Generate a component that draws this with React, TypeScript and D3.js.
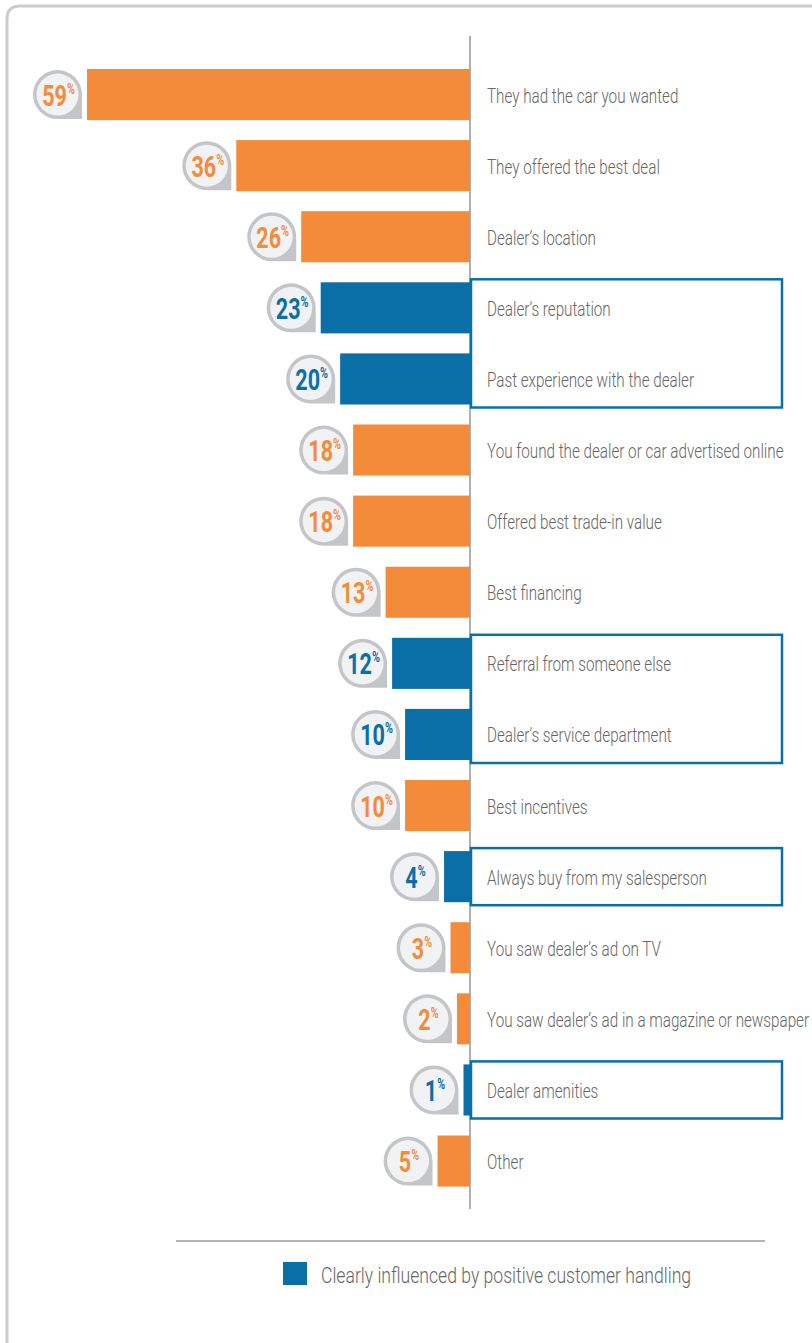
import React from "react";
import * as d3 from "d3";

const categories = [
  "They had the car you wanted",
  "They offered the best deal",
  "Dealer’s location",
  "Dealer’s reputation",
  "Past experience with the dealer",
  "You found the dealer or car advertised online",
  "Offered best trade-in value",
  "Best financing",
  "Referral from someone else",
  "Dealer’s service department",
  "Best incentives",
  "Always buy from my salesperson",
  "You saw dealer’s ad on TV",
  "You saw dealer’s ad in a magazine or newspaper",
  "Dealer amenities",
  "Other",
];
const values = [59, 36, 26, 23, 20, 18, 18, 13, 12, 10, 10, 4, 3, 2, 1, 5];
const customerHandling = [false, false, false, true, true, false, false, false, true, true, false, true, false, false, true, false];
const boxGroups = [
  [3, 4],
  [8, 9],
  [11, 11],
  [14, 14],
];
const legendLabel = "Clearly influenced by positive customer handling";

const ORANGE = "#f48b3a";
const BLUE = "#0a6fa6";
const TEXT = "#666666";
const FONT = "Roboto, 'DejaVu Sans', sans-serif";

export default function App() {
  const W = 812, H = 1343;
  const axisX = 470;
  const x = d3.scaleLinear().domain([0, 59]).range([axisX, 87]);
  const step = 71.1;
  const y = d3
    .scaleBand<string>()
    .domain(categories)
    .range([59, 59 + categories.length * step])
    .paddingInner(20 / step)
    .paddingOuter(10 / step);
  const bw = y.bandwidth();
  const R = 24.5;
  const labelScale = 0.725;
  const legendScale = 0.8;
  const numScale = 0.72;

  const badgePath = (cx: number, cy: number) =>
    `M ${cx + R} ${cy} L ${cx + R} ${cy + R} L ${cx} ${cy + R} A ${R} ${R} 0 1 1 ${cx + R} ${cy} Z`;

  return (
    <svg width={W} height={H} style={{ position: "absolute", left: 0, top: 0, background: "#fff" }}>
      <path d={`M 7 ${H + 5} L 7 19 Q 7 6 20 6 L ${W + 10} 6`} fill="none" stroke="#cccccc" strokeWidth={3} />
      <line x1={axisX} x2={axisX} y1={36} y2={1209} stroke="#b0b0b0" strokeWidth={2} />
      {categories.map((c, i) => {
        const v = values[i];
        const y0 = y(c)!;
        const cy = y0 + bw / 2;
        const color = customerHandling[i] ? BLUE : ORANGE;
        const bx = x(v);
        const cx = bx - 5 - R;
        return (
          <g key={c}>
            <rect x={bx} y={y0} width={axisX - bx} height={bw} fill={color} />
            <path d={badgePath(cx, cy)} fill="#c4c5c8" />
            <circle cx={cx} cy={cy} r={R - 3.5} fill="#f1f2f4" />
            <text
              transform={`translate(${cx + 1},${cy + 11}) scale(${numScale},1)`}
              textAnchor="middle"
              fill={color}
              fontFamily={FONT}
              fontWeight="bold"
            >
              <tspan fontSize={30}>{v}</tspan>
              <tspan fontSize={15} dy={-12}>%</tspan>
            </text>
            <text
              transform={`translate(${axisX + 17},${cy + 8}) scale(${labelScale},1)`}
              fill={TEXT}
              fontFamily={FONT}
              fontWeight={300}
              fontSize={21}
            >
              {c}
            </text>
          </g>
        );
      })}
      {boxGroups.map(([a, b], k) => {
        const top = y(categories[a])! - 3;
        const bottom = y(categories[b])! + bw + 3;
        return (
          <rect key={k} x={axisX + 1} y={top} width={782 - axisX - 1} height={bottom - top} fill="none" stroke={BLUE} strokeWidth={2.5} />
        );
      })}
      <line x1={176} x2={765} y1={1241} y2={1241} stroke="#9a9a9a" strokeWidth={1.5} />
      <rect x={283} y={1262} width={24} height={23} fill={BLUE} />
      <text
        transform={`translate(321,1283) scale(${legendScale},1)`}
        fill={TEXT}
        fontFamily={FONT}
        fontWeight={300}
        fontSize={22}
      >
        {legendLabel}
      </text>
    </svg>
  );
}
